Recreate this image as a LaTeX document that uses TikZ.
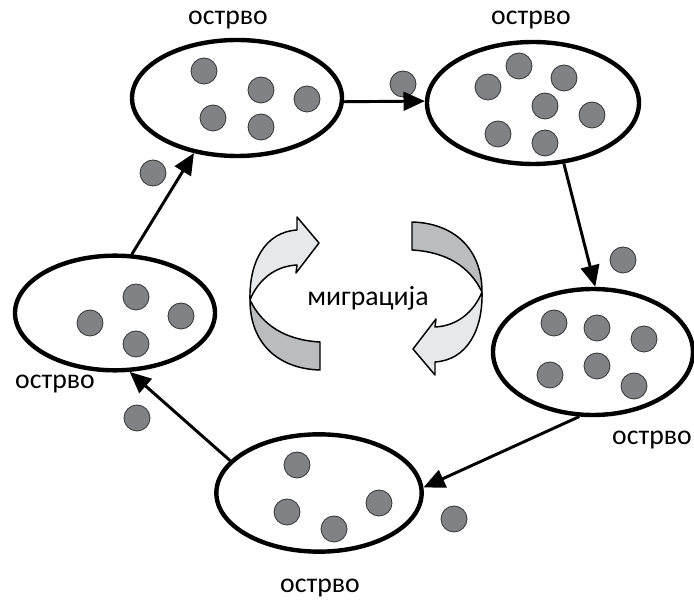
\documentclass[tikz,border=0pt]{standalone}
\usepackage{fontspec}
\setmainfont{Carlito}
\usetikzlibrary{shapes.geometric,arrows.meta}

\definecolor{dotgray}{RGB}{128,130,133}
\definecolor{bandlight}{RGB}{231,232,233}
\definecolor{banddark}{RGB}{186,188,190}

\tikzset{
  island/.style={ellipse, draw=black, line width=3.3pt, fill=white, inner sep=0pt},
  member/.style={circle, draw=black!80, line width=0.6pt, fill=dotgray,
                 minimum size=19.5pt, inner sep=0pt},
  flow/.style={line width=2.2pt, -{Triangle[length=16pt,width=14pt]}},
  caption/.style={font=\fontsize{20.8}{24}\selectfont, inner sep=0pt},
  band/.style={draw=black, line width=1.1pt, line join=round}
}

\begin{document}
\begin{tikzpicture}[x=0.75pt, y=-0.75pt]
\useasboundingbox (0,0) rectangle (694,602);

% islands
\node[island, minimum width=157.5pt, minimum height=87pt]  (isl1) at (237,98)  {};
\node[island, minimum width=159pt,   minimum height=91.5pt] (isl2) at (533,103) {};
\node[island, minimum width=150pt,   minimum height=94.5pt] (isl3) at (593,352) {};
\node[island, minimum width=154pt,   minimum height=88pt]  (isl4) at (319,493) {};
\node[island, minimum width=150pt,   minimum height=86pt]  (isl5) at (115,313) {};

% individuals on each island
\node[member] (a1) at (204,71)  {};
\node[member] (a2) at (261,90)  {};
\node[member] (a3) at (307,99)  {};
\node[member] (a4) at (213,118) {};
\node[member] (a5) at (261,127) {};

\node[member] (b1) at (488,87)  {};
\node[member] (b2) at (519,66)  {};
\node[member] (b3) at (564,78)  {};
\node[member] (b4) at (545,106) {};
\node[member] (b5) at (592,115) {};
\node[member] (b6) at (498,134) {};
\node[member] (b7) at (545,143) {};

\node[member] (c1) at (554,323) {};
\node[member] (c2) at (597,328) {};
\node[member] (c3) at (644,339) {};
\node[member] (c4) at (550,375) {};
\node[member] (c5) at (597,366) {};
\node[member] (c6) at (634,386) {};

\node[member] (d1) at (297,465) {};
\node[member] (d2) at (287,512) {};
\node[member] (d3) at (334,529) {};
\node[member] (d4) at (379,503) {};

\node[member] (e1) at (136,297) {};
\node[member] (e2) at (90,323)  {};
\node[member] (e3) at (181,316) {};
\node[member] (e4) at (136,344) {};

% migrants between islands
\node[member] (m1) at (403,84)  {};
\node[member] (m2) at (623,260) {};
\node[member] (m3) at (454,519) {};
\node[member] (m4) at (137,418) {};
\node[member] (m5) at (153,173) {};

% migration routes
\draw[flow] (isl1.-2)   -- (isl2.179);
\draw[flow] (isl2.-63)  -- (isl3.88);
\draw[flow] (isl3.258)  -- (isl4.3);
\draw[flow] (isl4.160)  -- (isl5.-76);
\draw[flow] (isl5.74)   -- (isl1.232);

% labels
\node[caption] (t1) at (228,20)  {острво};
\node[caption] (t2) at (531,20)  {острво};
\node[caption] (t3) at (652,440) {острво};
\node[caption] (t4) at (320,588) {острво};
\node[caption] (t5) at (55,384)  {острво};

% central twisted arrows
\node[caption] (mig) at (368,298) {миграција};

\foreach \r in {0,180}{
  \begin{scope}[rotate around={\r:(366,296)}]
    \fill[banddark] (250,300) .. controls (250,345) and (280,369) .. (320,370)
      -- (320,342) .. controls (285,340) and (262,325) .. cycle;
    \draw[band] (250,300) .. controls (250,345) and (280,369) .. (320,370)
      -- (320,342) .. controls (285,340) and (262,325) .. cycle;
    \fill[bandlight] (250,300) .. controls (249,262) and (265,232) .. (297,230)
      -- (297,217) -- (319,243) -- (296,273) -- (297,265)
      .. controls (275,266) and (258,280) .. cycle;
    \draw[band] (250,300) .. controls (249,262) and (265,232) .. (297,230)
      -- (297,217) -- (319,243) -- (296,273) -- (297,265)
      .. controls (275,266) and (258,280) .. cycle;
  \end{scope}
}
\end{tikzpicture}
\end{document}
